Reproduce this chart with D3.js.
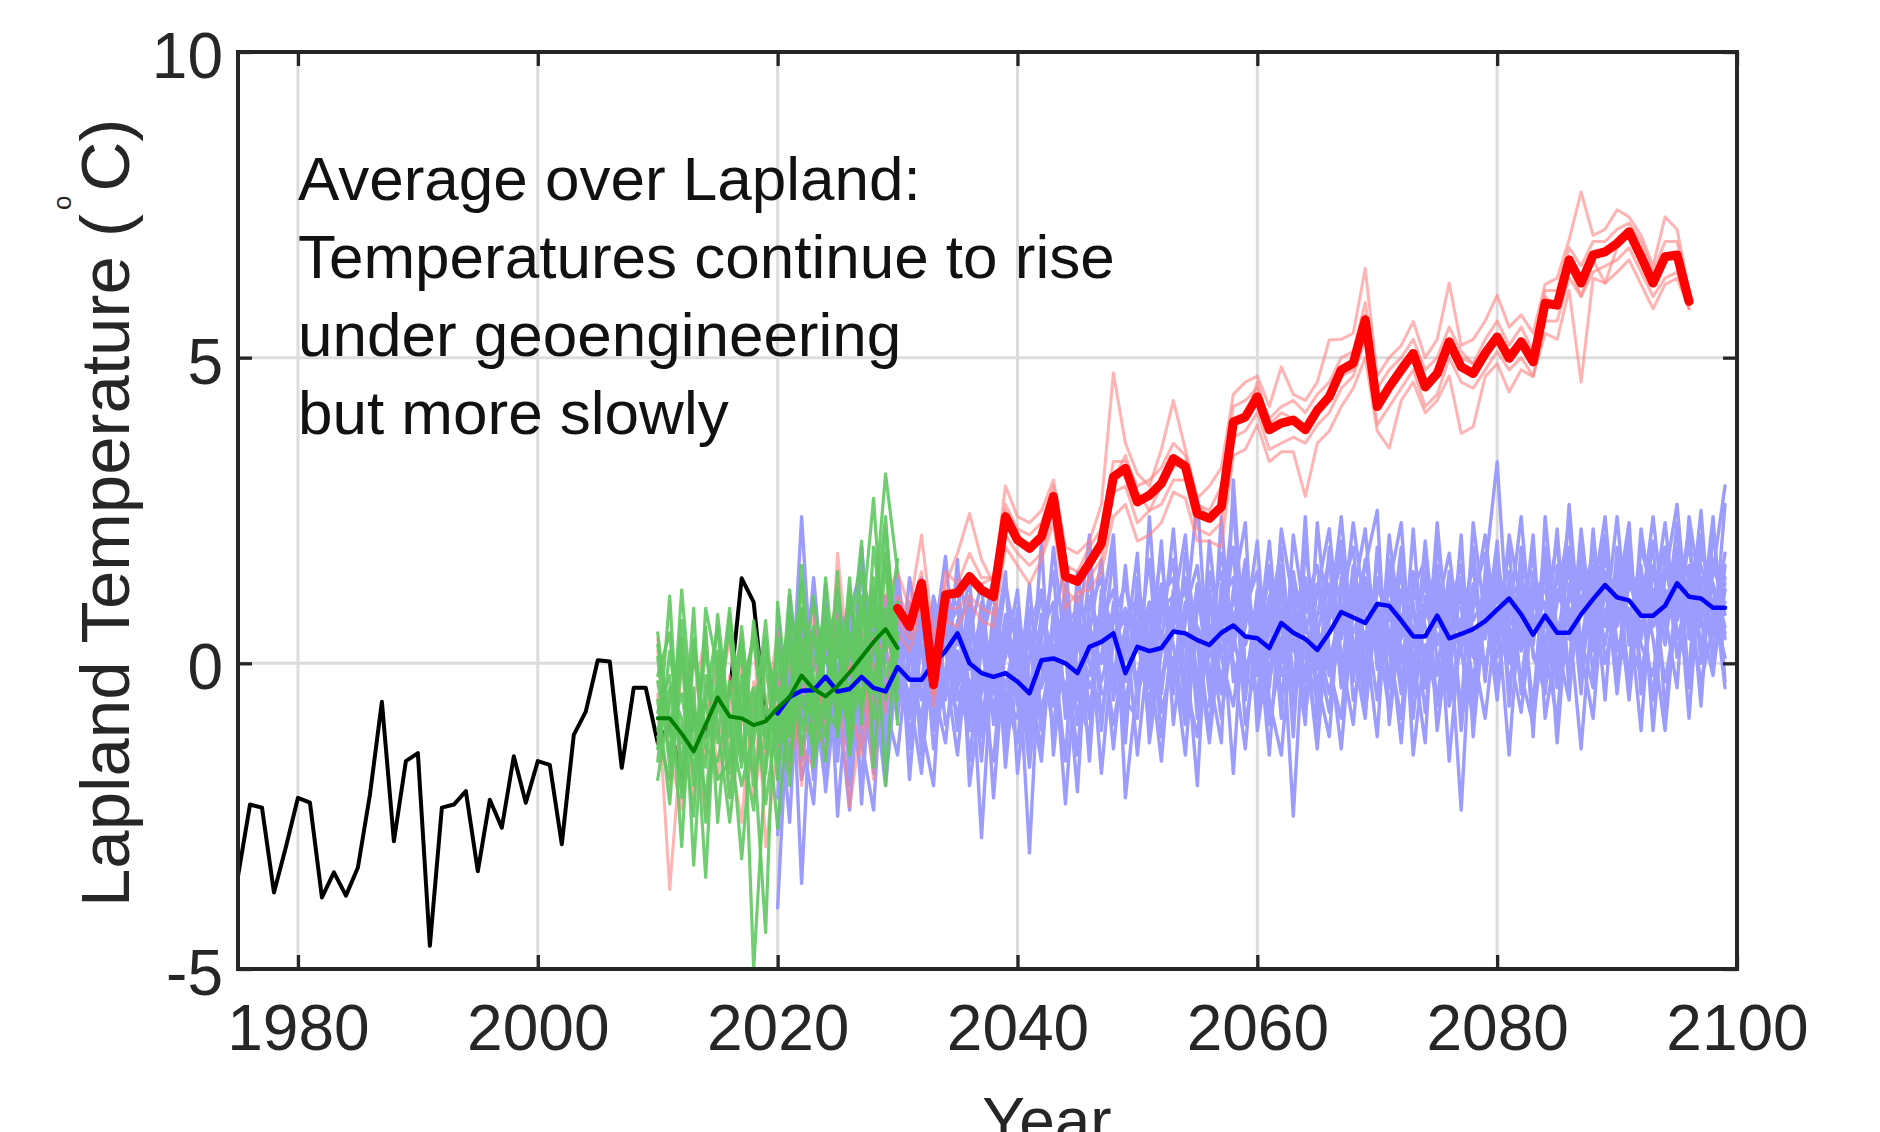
<!DOCTYPE html>
<meta charset="utf-8">
<script src="https://d3js.org/d3.v7.min.js"></script>
<style>
  body { margin: 0; background: #fff; }
  text { font-family: "Liberation Sans", Arial, sans-serif; }
</style>

<div id="my_dataviz"></div>

<script>

// axis ticks
var xTicks = [1980, 2000, 2020, 2040, 2060, 2080, 2100]
var yTicks = [-5, 0, 5, 10]

var noteLines = ["Average over Lapland:", "Temperatures continue to rise", "under geoengineering", "but more slowly"]

// observed record, one value a year from 1975
var obsStart = 1975
var obsTemp = [-3.48, -2.31, -2.36, -3.75, -3.0, -2.2, -2.28, -3.83, -3.42, -3.8,
  -3.34, -2.15, -0.63, -2.91, -1.6, -1.47, -4.62, -2.36, -2.31, -2.09,
  -3.4, -2.23, -2.69, -1.52, -2.28, -1.6, -1.66, -2.96, -1.17, -0.79,
  0.05, 0.03, -1.71, -0.4, -0.4, -1.3, -1.0, -1.9, -0.8, -1.2,
  -0.6, -0.5, 1.39, 1.0, -0.9]

// green runs 2010-2030
var greenStart = 2010
var greenRuns = [
  [-0.2, 0.5, -1.8, 0.9, -2.6, -0.4, -1.2, 0.3, -5.0, -1.6, 0.4, -1.1, 1.6, -0.8, 0.1, -0.5, 1.2, -0.3, 0.8, 3.1, 1.5],
  [-1.9, -0.6, 0.4, -3.3, -0.2, -1.3, 0.8, -0.9, -0.4, -2.3, -0.8, 0.3, -1.5, 0.5, -0.9, 1.5, -1.4, 0.6, 2.7, -0.2, 0.4],
  [0.5, -1.2, -0.5, -1.8, 0.6, -2.6, -0.3, -1.7, 0.7, -0.6, -2.7, -0.4, 0.2, -1.3, 1.4, -0.6, 0.1, 2.0, -1.7, 0.9, -0.6],
  [-1.4, 1.1, -2.2, -0.4, -3.5, 0.2, -0.9, -3.2, -0.8, 0.4, -1.3, 1.2, -0.7, -0.2, -1.2, 0.4, -0.9, -0.1, 1.4, -2.0, 1.0],
  [-0.8, -0.2, -3.0, 0.4, -1.2, -0.8, 0.9, -1.3, -2.4, 0.2, -0.5, -2.0, 0.8, -0.6, 0.6, -1.2, 0.5, -0.7, 0.2, 1.8, -1.0],
  [0.1, -1.7, 1.2, -1.1, -0.6, -1.9, -1.6, 0.6, -1.4, -4.4, 1.0, -0.9, -0.3, 1.1, -0.4, 0.7, -0.6, 1.1, -0.4, 0.5, 0.2],
  [-1.1, -0.4, -0.9, -2.5, 0.9, -0.1, -2.2, -0.4, 0.4, -1.2, -0.2, 0.6, -1.1, -0.1, 0.9, -0.9, 1.4, -1.0, 1.9, 0.3, 1.7],
  [-0.6, -2.3, 0.1, -0.7, -1.7, 0.8, -1.0, -2.0, -1.1, 0.7, -1.6, -0.5, 1.3, -1.7, -0.3, 0.2, -0.8, 1.5, 0.6, 2.4, -0.3],
  [-0.3, -1.5, 0.3, -2.0, -0.6, 0.6, -1.8, -0.2, -1.3, 0.1, -1.9, 0.4, -0.6, -1.4, 0.7, -0.2, -1.2, 0.9, -0.5, 1.6, -0.4],
  [-1.6, 0.2, -1.3, -0.9, -2.2, -0.3, 0.5, -1.6, -0.5, -1.8, 0.2, -1.2, 0.9, -0.4, -1.6, 0.6, 0.3, -0.6, 1.2, 0.2, 0.8],
  [0.3, -0.9, -2.1, 0.2, -1.4, -1.6, -0.5, 0.4, -2.0, -0.7, -1.1, 0.8, -0.2, 0.6, -0.7, -1.1, 0.9, 0.4, -0.9, 2.2, 0.1],
  [-1.2, -1.9, 0.7, -1.5, 0.2, -1.0, -2.6, -0.8, 0.5, -1.4, -0.4, -1.6, 0.4, -0.9, 0.3, 1.0, -1.5, 0.2, 0.5, -0.6, 0.5]
]
var greenMean = [-0.9, -0.9, -1.15, -1.44, -1.0, -0.56, -0.87, -0.9, -1.01, -0.95,
  -0.73, -0.55, -0.2, -0.42, -0.54, -0.37, -0.15, 0.1, 0.35, 0.56, 0.25]

// red runs 2010-2096, red mean from 2030
var redStart = 2010
var redRuns = [
  [-0.5, -3.7, -1.2, 0.3, -1.6, -0.4, -2.1, 0.2, -0.9, -1.5,
   -0.3, -1.2, 0.4, -0.8, -1.5, 1.8, -0.2, 0.6, -1.9, 1.1,
   1.5, 0.9, 2.1, 0.4, 1.3, 1.8, 2.45, 1.7, 1.3, 2.9,
   2.4, 2.3, 2.5, 3.0, 1.9, 1.8, 2.0, 2.6, 4.75, 3.6,
   3.1, 2.9, 3.5, 4.3, 3.5, 2.7, 2.9, 3.2, 4.4, 4.6,
   4.7, 4.2, 4.85, 4.4, 4.3, 4.6, 5.29, 5.3, 5.4, 6.46,
   4.7, 5.0, 5.2, 5.59, 5.0, 5.3, 6.22, 5.2, 5.3, 5.6,
   6.02, 5.5, 5.7, 5.4, 6.2, 6.3, 6.93, 7.71, 7.0, 7.1,
   7.42, 7.3, 7.0, 6.5, 7.3, 7.1, 6.1],
  [0.2, -1.5, -2.4, -0.6, 0.5, -1.9, -0.2, -1.0, 0.6, -3.0,
   -1.4, 0.2, -2.0, 0.9, -0.6, -0.3, -2.35, -1.0, 0.4, 0.2,
   0.5, 0.2, 0.9, -0.7, 0.7, 0.6, 1.0, 0.7, 0.6, 1.9,
   1.6, 1.3, 1.7, 2.3, 0.9, 1.16, 1.2, 1.5, 2.4, 2.6,
   2.0, 2.1, 2.3, 2.8, 2.7, 2.0, 2.0, 1.9, 3.4, 3.5,
   3.9, 3.3, 3.46, 3.46, 2.73, 3.6, 3.8, 4.2, 4.5, 5.0,
   3.8, 3.52, 4.3, 4.6, 4.1, 4.3, 4.7, 3.76, 3.87, 4.69,
   4.9, 4.44, 4.8, 4.69, 5.4, 5.3, 6.1, 4.6, 6.3, 6.22,
   6.4, 6.6, 6.2, 5.8, 6.2, 6.3, 5.8],
  [-1.3, -0.6, 0.4, -2.2, -1.0, 0.1, -1.4, -2.6, -0.3, -0.8,
   0.5, -1.8, -0.5, 0.1, -1.1, 0.8, -1.3, 0.3, -0.7, -0.4,
   1.1, 0.8, 1.5, -0.2, 1.5, 1.3, 1.8, 1.4, 1.4, 2.6,
   2.2, 2.1, 2.3, 2.9, 1.6, 1.5, 1.9, 2.2, 3.3, 3.3,
   2.9, 3.0, 3.2, 3.6, 3.4, 2.6, 2.5, 2.9, 4.2, 4.3,
   4.5, 4.0, 4.2, 4.3, 4.1, 4.4, 4.6, 5.0, 5.1, 5.9,
   4.5, 4.8, 5.0, 5.3, 4.8, 5.0, 5.5, 5.1, 4.9, 5.3,
   5.6, 5.2, 5.5, 5.1, 6.1, 6.1, 6.8, 6.5, 6.9, 6.9,
   7.1, 7.2, 6.9, 6.4, 6.9, 6.9, 6.0],
  [-0.9, -2.0, -0.1, -1.1, -2.5, -0.7, 0.4, -1.4, -1.8, -0.2,
   -0.8, -0.4, -1.4, -1.7, 0.6, -0.9, 0.0, -0.5, 0.9, 0.6,
   0.7, 0.4, 1.1, -0.5, 0.9, 0.9, 1.1, 0.9, 0.8, 2.1,
   1.8, 1.6, 1.8, 2.5, 1.2, 1.0, 1.4, 1.7, 2.8, 2.9,
   2.3, 2.5, 2.6, 3.0, 3.0, 2.2, 2.1, 2.3, 3.7, 3.8,
   4.1, 3.5, 3.6, 3.7, 3.6, 3.9, 4.1, 4.5, 4.7, 5.3,
   3.9, 4.2, 4.5, 4.8, 4.2, 4.4, 5.0, 4.6, 4.5, 4.8,
   5.1, 4.8, 5.0, 4.7, 5.6, 5.6, 6.3, 6.0, 6.4, 6.5,
   6.6, 6.8, 6.4, 6.0, 6.3, 6.4, 5.8],
  [0.4, -1.1, -1.7, 0.0, -0.4, -1.2, -0.8, 0.5, -2.2, -1.1,
   -0.1, -0.9, 0.1, -1.2, -0.3, -0.5, -0.6, -1.5, 0.0, -0.8,
   0.8, 0.6, 1.0, -0.3, 1.2, 1.2, 1.3, 1.3, 1.4, 2.5,
   2.0, 1.9, 2.1, 2.8, 1.5, 1.3, 1.7, 1.9, 3.0, 3.4,
   2.8, 2.5, 2.9, 3.2, 3.3, 2.6, 2.4, 2.5, 4.0, 4.0,
   4.6, 3.9, 4.1, 4.0, 3.9, 4.2, 4.4, 4.7, 4.8, 5.7,
   4.3, 4.6, 4.9, 5.1, 4.6, 4.8, 5.3, 5.0, 4.9, 5.1,
   5.3, 5.1, 5.3, 5.0, 6.0, 5.8, 6.5, 6.0, 6.6, 6.22,
   6.8, 7.0, 6.7, 6.2, 6.6, 6.7, 5.9]
]
var redMeanStart = 2030
var redMean = [0.9, 0.6, 1.31, -0.35, 1.12, 1.15, 1.42, 1.2, 1.09, 2.4,
  2.02, 1.88, 2.07, 2.73, 1.42, 1.34, 1.64, 1.96, 3.05, 3.19,
  2.64, 2.75, 2.94, 3.35, 3.22, 2.45, 2.37, 2.56, 3.95, 4.03,
  4.36, 3.82, 3.93, 3.98, 3.82, 4.14, 4.36, 4.8, 4.91, 5.62,
  4.2, 4.52, 4.8, 5.07, 4.52, 4.74, 5.26, 4.85, 4.74, 5.07,
  5.34, 4.99, 5.26, 4.93, 5.89, 5.86, 6.6, 6.22, 6.68, 6.73,
  6.87, 7.06, 6.65, 6.22, 6.65, 6.68, 5.92]

// geoengineering runs 2020-2099
var blueStart = 2020
var blueRuns = [
  [-4.0, -0.1, 0.6, -1.3, -0.4, 0.9, -1.8, -0.6, 0.3, -1.1,
   0.8, -1.2, -0.3, 1.1, 0.2, -0.9, 0.4, -1.6, 0.7, -0.5,
   -1.3, 0.6, 1.2, -0.7, 0.3, -1.5, 0.9, 1.4, -0.2, -1.0,
   1.2, -0.4, 0.8, 1.7, -0.6, 0.5, -1.1, 1.3, 0.2, 1.6,
   -0.8, 0.7, 1.9, -0.3, 0.4, -1.4, 1.1, 2.0, 0.3, -0.5,
   1.8, 0.2, -0.9, 1.4, 0.6, -0.2, 1.5, -1.1, 0.9, 2.1,
   0.4, 1.9, -0.5, 1.2, 0.1, 2.2, -0.3, 1.0, 1.8, 0.6,
   2.4, 0.3, 1.1, -0.6, 1.7, 0.9, 2.2, 0.0, 1.5, 2.9],
  [0.5, -1.2, 2.4, -0.8, 0.3, -1.6, 0.8, 1.6, -1.0, 0.2,
   -0.7, 0.9, -1.5, 0.3, 1.75, -0.4, -1.1, 0.6, -0.2, 1.3,
   0.2, -1.7, 0.4, 1.5, -0.9, 0.7, -0.4, 0.1, 1.8, -2.2,
   -0.3, 1.0, -1.2, 0.6, 1.4, -0.9, 2.0, 0.1, -0.7, 0.9,
   1.5, -1.0, 0.2, 1.3, -0.6, 0.8, 1.7, -0.4, 1.1, 2.2,
   -0.1, 1.3, 2.3, -0.5, 0.8, 1.6, -0.7, 0.3, 1.9, -0.2,
   1.4, 0.0, 1.7, -1.2, 2.4, 0.3, -0.6, 1.9, 0.7, 2.1,
   -0.2, 1.8, 0.5, 2.0, -0.8, 1.3, 0.6, 2.5, -0.1, 1.2],
  [-1.6, 0.9, -3.6, 0.4, -1.1, 1.2, -0.3, -1.9, 0.7, -0.4,
   0.3, -0.6, 1.0, -1.4, -0.2, 1.5, 0.6, -2.85, 0.4, -0.9,
   0.9, -0.3, -1.4, 0.7, 1.6, -0.5, -1.2, 1.1, 0.3, 0.8,
   -1.5, 0.4, 1.8, -0.4, 0.9, 1.6, -0.2, -1.3, 3.0, -0.1,
   0.5, 1.4, -0.9, 2.1, 0.7, -0.3, -1.2, 1.4, 0.0, 1.7,
   0.6, -0.8, 1.2, 0.1, -1.3, 2.0, 0.5, 1.1, -0.6, 1.3,
   -0.4, 1.1, 0.6, 1.8, -0.2, 1.0, 2.3, -0.1, 1.4, 0.3,
   1.6, -0.3, 2.2, 0.8, 0.4, 2.3, -0.4, 1.4, 1.0, 0.5],
  [-0.9, -1.8, 0.2, 1.0, -2.1, -0.2, 0.6, -1.3, -2.4, 0.9,
   -0.5, 1.4, 0.2, -0.8, 0.9, 1.0, -1.6, 0.3, 1.2, -1.7,
   0.4, -3.1, 0.8, -0.2, 1.1, -1.0, 0.5, 1.7, -0.6, 0.6,
   1.1, -0.9, 0.3, 2.2, -0.3, -1.2, 0.8, 1.5, 0.0, -1.4,
   0.9, 0.1, 1.6, -1.2, 1.9, 0.4, -0.5, 0.6, 2.3, 0.8,
   -0.6, 2.1, 0.4, 1.0, -0.8, 0.9, 1.8, 0.2, -0.9, 1.5,
   3.3, 0.2, -0.8, 0.9, 1.5, -1.3, 1.2, 0.4, -0.4, 1.9,
   0.6, 2.1, -0.2, 1.0, 1.9, 0.1, 1.5, -0.7, 2.2, 0.4],
  [0.2, -0.7, -1.2, -2.3, 0.8, -0.9, -2.0, 0.4, 0.1, -1.6,
   1.3, -1.9, 0.5, 0.9, -1.0, -0.3, 1.1, -0.7, -1.6, 0.6,
   -0.7, 1.3, -1.0, 0.2, -1.6, 1.5, 0.0, -0.9, 0.7, 1.3,
   0.2, 1.7, -0.8, 0.1, -1.5, 1.0, 0.6, -0.5, 1.2, 2.3,
   -1.1, 0.3, 0.9, -2.5, 1.0, 1.6, -0.1, -0.9, 1.3, -0.8,
   1.0, -0.3, 1.7, -1.5, 0.3, -0.6, 0.9, 1.6, 0.2, -0.9,
   0.9, -1.5, 1.3, 0.2, -0.5, 1.6, 0.7, -1.4, 1.1, 2.4,
   0.2, 0.9, -1.1, 1.6, 0.3, 1.8, 0.9, -0.3, 0.6, 1.8],
  [-1.3, 0.4, -0.2, -1.7, 1.3, -2.5, 0.1, -0.8, -1.5, 0.6,
   -0.3, -0.5, -1.8, 0.6, 0.4, 1.3, -0.8, 1.0, -0.4, 0.1,
   1.2, -1.1, -0.3, 1.9, 0.2, -2.1, 1.1, 0.4, -1.0, 0.2,
   1.8, -1.3, 0.2, 0.9, 2.1, -0.6, -0.7, 2.4, -0.3, 0.6,
   2.0, -0.6, -1.5, 0.8, -0.2, 1.2, 2.2, 0.1, -1.0, 1.2,
   0.3, 1.0, -0.5, 2.2, -0.4, 1.4, -1.6, 0.7, 1.6, -0.3,
   1.7, 0.6, -0.2, -1.0, 0.8, 2.0, -0.4, 1.5, 0.2, 1.1,
   1.3, -0.6, 1.4, 0.4, -1.1, 1.1, 1.9, 0.7, -0.2, 1.6],
  [-2.2, 1.1, -0.6, 0.5, -1.4, 0.3, -1.1, 1.9, -0.3, -2.0,
   0.1, 0.2, -1.0, -2.0, 1.1, 0.3, 1.4, -1.2, 0.9, -1.3,
   0.5, -0.8, 2.0, -1.5, 0.6, 0.9, -1.6, 1.2, 0.5, -0.6,
   -0.9, 2.4, -0.5, 1.1, 0.4, -2.0, 1.5, 0.4, 1.9, -1.0,
   0.2, 2.0, -0.2, 0.4, -1.0, 2.3, 0.2, -1.4, 0.9, 1.6,
   2.5, -1.0, 0.8, -0.2, 2.0, 0.0, -0.3, 2.1, -1.2, 1.0,
   -0.6, 1.4, 0.3, 2.1, -0.9, 0.4, 1.6, -0.5, 2.2, 0.0,
   1.0, 2.3, -0.5, 1.2, 0.8, -0.4, 2.4, 1.1, 0.2, 2.6],
  [-0.4, -2.6, 0.9, -0.1, 0.6, -1.3, 1.0, -2.3, 0.8, -0.7,
   -1.5, 0.4, 1.2, -0.4, -1.3, 0.7, -0.1, 0.8, -2.2, 0.4,
   -0.1, 0.6, -0.8, 0.3, -2.3, 0.4, 2.1, -1.1, 1.0, -0.3,
   0.6, -0.2, 2.0, -1.0, 0.7, 2.7, -0.4, 0.9, -1.8, 1.3,
   -0.2, 1.1, 0.6, -0.7, 2.4, -0.9, 0.9, 1.8, -0.6, 0.3,
   1.4, 0.5, -1.3, 1.2, 1.7, -1.1, 0.6, -2.4, 1.2, 0.4,
   2.0, -0.7, 1.9, 0.6, 1.0, -0.4, 2.6, 0.2, -0.9, 1.5,
   -0.5, 1.4, 0.8, 2.4, 0.6, 1.6, -0.9, 1.8, 1.3, -0.4],
  [0.9, -1.5, -0.9, 1.4, -0.8, -0.5, -2.4, 0.2, 1.2, -0.9,
   0.6, -1.4, 0.8, -0.9, 0.7, -1.1, 0.9, -0.3, 0.2, 1.5,
   -1.8, 0.1, 1.1, -0.5, 1.3, -0.2, 0.7, -1.8, 0.4, 0.9,
   0.4, -0.7, 1.2, 0.3, -1.0, 1.3, 0.5, -0.9, 0.7, 1.0,
   0.7, -1.5, 1.3, 0.5, 0.1, -0.6, 1.9, 0.9, -0.2, 0.5,
   -1.2, 1.7, 0.2, 0.6, -0.4, 2.3, 0.1, 1.4, 0.5, -0.1,
   1.2, -0.3, 0.5, 1.4, 0.2, -0.9, 1.3, 0.8, 1.6, -0.6,
   1.9, 0.4, -0.2, 0.9, 2.3, 0.5, -0.1, 2.1, 0.7, 1.0],
  [-1.9, 0.0, -0.4, -0.9, -1.6, 1.1, -0.7, -0.2, -1.8, 0.3,
   -0.9, 1.0, -0.6, 0.4, -0.6, 1.7, -2.0, -0.4, 0.6, -0.7,
   0.3, -1.4, 0.5, 1.0, -0.6, 1.1, -0.9, 0.8, 2.1, -1.3,
   1.4, 0.1, -1.6, 0.8, 1.2, -0.2, 0.3, 1.8, 0.5, -0.6,
   1.2, -0.4, 2.2, 1.0, -0.8, 0.5, 1.3, -0.2, 1.6, 0.0,
   0.8, 0.2, 1.9, -0.9, 1.1, 0.6, 1.2, -0.8, 2.3, 0.7,
   0.1, 2.1, 1.0, -0.7, 1.7, 0.6, -0.1, 2.2, 0.4, 1.3,
   0.8, 1.6, 0.3, -0.2, 1.4, 2.6, 0.4, 1.2, 0.9, 0.1],
  [-0.6, 0.6, -1.9, -1.0, 0.9, -0.3, -1.5, 0.5, -0.6, 1.1,
   -0.2, -0.8, 1.4, -0.3, -0.1, -1.5, 0.5, 1.3, -1.0, 0.3,
   0.8, -0.5, -1.6, 0.9, 0.4, -0.4, 1.5, -0.5, -0.4, 1.6,
   -0.6, 0.8, 0.5, -0.5, 1.8, 0.3, -1.3, 0.6, 2.6, -0.2,
   -0.5, 0.9, 0.0, 1.5, 0.3, -1.2, 0.7, 2.4, 0.2, -0.9,
   1.9, -0.4, 0.7, 1.5, -0.1, 1.0, -0.5, 0.4, 1.1, 1.8,
   -0.2, 0.7, 2.4, 0.1, -0.3, 1.2, 0.6, 1.7, -0.2, 2.0,
   0.3, -0.1, 1.9, 1.1, -0.3, 0.9, 2.0, 0.2, 1.7, 0.8],
  [-2.8, -0.3, 0.3, -0.5, -2.0, 0.5, 0.9, -1.0, -0.1, -1.3,
   1.5, -0.2, -0.9, 0.7, 0.6, -0.6, -0.5, 0.5, 1.4, -0.6,
   -0.9, 0.9, 0.2, -1.1, 1.0, 0.3, -0.2, 0.6, -1.4, 0.5,
   0.9, -1.1, 1.1, 1.4, -0.8, 0.9, 1.2, -0.4, 0.4, 1.7,
   0.0, 1.6, -0.6, 0.9, 1.4, 0.2, -0.8, 1.1, 1.9, -0.3,
   1.2, 0.9, -0.2, 0.3, 1.5, -0.7, 1.0, 0.9, -0.3, 1.2,
   0.7, 1.3, -0.4, 1.5, 0.9, 0.0, 1.9, -0.2, 1.3, 0.8,
   1.4, 0.7, 1.6, -1.1, 1.2, 0.4, 1.1, 0.6, 2.4, -0.3],
  [-1.1, -0.8, 0.1, -1.9, 0.4, -1.0, -0.2, -1.4, 0.5, -0.9,
   -0.4, 0.5, -1.2, 0.8, -0.3, 0.2, -1.0, 0.9, -0.8, 0.5,
   -0.5, 0.4, -1.1, 0.6, -0.7, 1.0, -0.8, 0.7, 1.2, -0.7,
   0.7, -0.9, 0.9, 1.1, -0.2, 1.3, -0.5, 1.0, 1.4, -0.4,
   1.1, -0.2, 1.2, -0.4, 1.3, -0.1, 1.0, 1.6, -0.3, 1.4,
   0.5, 1.5, 0.0, 1.1, 0.9, 1.6, -0.2, 1.3, 0.7, 1.1,
   1.5, 0.6, 1.0, 0.3, 1.9, -0.1, 1.1, 1.3, 0.6, 1.7,
   1.0, 1.5, 0.4, 1.6, 0.7, 1.9, 0.8, 1.3, 0.5, 1.4],
  [-0.2, -1.4, -0.8, 0.3, -1.2, 0.0, -1.7, -0.5, -1.1, 0.4,
   0.5, -0.9, 0.6, -0.6, 1.0, -0.4, 0.3, -0.9, 0.1, -0.4,
   0.6, -1.0, 0.3, -0.3, 0.8, -0.6, 0.6, 0.0, 0.9, 0.1,
   -0.2, 0.5, -0.4, 1.2, 0.3, -0.3, 1.1, 0.2, 0.8, 1.1,
   -0.1, 0.5, 1.4, 0.2, 0.9, 0.6, -0.2, 1.2, 1.1, 0.4,
   1.3, 0.7, 1.2, -0.3, 0.9, 0.3, 1.1, 0.6, 0.1, 1.4,
   0.3, 1.0, 1.4, 0.8, 0.4, 1.1, 0.9, 0.3, 1.6, 0.7,
   1.6, 0.5, 1.2, 0.9, 1.6, 0.7, 1.4, 0.3, 1.3, 0.6],
  [-1.5, 0.3, -1.0, -0.6, -0.9, -1.4, 0.4, -0.9, -0.7, -0.2,
   -0.8, 0.1, 0.3, -1.1, 0.5, 0.9, -0.4, 0.2, -0.5, 0.8,
   -0.2, -0.7, 0.8, 0.2, -0.4, 0.4, 0.2, 0.9, -0.5, 0.4,
   0.3, 1.0, 0.4, -0.2, 1.0, 0.6, 0.1, 0.9, 0.4, 0.8,
   0.6, 1.0, 0.3, 1.1, -0.3, 0.8, 0.9, 0.4, 1.4, 0.9,
   0.9, 1.2, 0.5, 0.8, 0.1, 1.2, 0.7, 0.2, 1.3, 0.6,
   1.1, 1.5, 0.2, 1.0, 1.2, 0.5, 0.4, 1.4, 1.0, 1.8,
   0.9, 1.2, 1.5, 0.6, 1.1, 1.4, 1.2, 1.6, 0.8, 1.3],
  [-0.5, -0.2, -1.6, -0.3, -0.7, 0.3, -0.9, 0.1, -1.3, -0.6,
   0.2, -0.6, -0.2, 0.3, 0.7, -0.1, 0.8, -0.5, 0.4, -1.0,
   0.1, 0.3, -0.4, 0.5, 0.6, -0.9, 0.4, -0.3, 0.5, 0.7,
   -0.5, 0.2, 1.3, 0.6, 0.3, 0.9, 0.6, -0.3, 1.1, 0.3,
   0.9, -0.3, 0.7, 0.8, 0.5, 1.3, 0.1, 0.7, 0.5, 1.1,
   0.2, 0.9, 1.4, 0.5, 1.3, 0.4, 0.8, 1.2, 0.3, 0.9,
   1.3, 0.4, 0.8, 1.2, 0.6, 1.4, 0.7, 1.1, 0.9, 1.2,
   0.7, 1.3, 0.9, 1.2, 0.8, 1.1, 1.6, 0.9, 1.5, 1.2]
]
var blueMean = [-0.82, -0.55, -0.45, -0.44, -0.22, -0.46, -0.42, -0.22, -0.4, -0.46,
  -0.06, -0.27, -0.27, 0.0, 0.2, 0.49, 0.0, -0.16, -0.22, -0.16,
  -0.3, -0.49, 0.05, 0.08, 0.0, -0.16, 0.27, 0.35, 0.49, -0.16,
  0.27, 0.2, 0.25, 0.52, 0.49, 0.38, 0.3, 0.5, 0.62, 0.44,
  0.41, 0.25, 0.66, 0.5, 0.4, 0.22, 0.5, 0.84, 0.75, 0.66,
  0.97, 0.94, 0.7, 0.44, 0.44, 0.78, 0.41, 0.48, 0.56, 0.69,
  0.88, 1.06, 0.8, 0.47, 0.78, 0.5, 0.5, 0.8, 1.05, 1.28,
  1.08, 1.03, 0.78, 0.78, 0.94, 1.31, 1.09, 1.06, 0.91, 0.91]


// set the dimensions and margins of the graph
var width = 1880,
    height = 1132,
    margin = {top: 52, right: 143, bottom: 163, left: 238}

var svg = d3.select("#my_dataviz")
  .append("svg")
    .attr("width", width)
    .attr("height", height)

var x = d3.scaleLinear().domain([1975, 2100]).range([margin.left, width - margin.right])
var y = d3.scaleLinear().domain([-5, 10]).range([height - margin.bottom, margin.top])

// turn a list of yearly values into [year, value] pairs
function yearly(start, values) {
  return values.map(function(v, i) { return [start + i, v] })
}

var line = d3.line()
  .x(function(d) { return x(d[0]) })
  .y(function(d) { return y(d[1]) })

svg.append("clipPath").attr("id", "plotclip")
  .append("rect")
    .attr("x", x(1975)).attr("y", y(10))
    .attr("width", x(2100) - x(1975)).attr("height", y(-5) - y(10))

// grid
var grid = svg.append("g").attr("stroke", "#dcdcdc").attr("stroke-width", 3)
grid.selectAll(".vx").data(xTicks).enter().append("line")
  .attr("x1", function(d) { return x(d) }).attr("x2", function(d) { return x(d) })
  .attr("y1", y(-5)).attr("y2", y(10))
grid.selectAll(".hy").data(yTicks).enter().append("line")
  .attr("x1", x(1975)).attr("x2", x(2100))
  .attr("y1", function(d) { return y(d) }).attr("y2", function(d) { return y(d) })

var plot = svg.append("g").attr("clip-path", "url(#plotclip)")
  .attr("fill", "none").attr("stroke-linejoin", "round").attr("stroke-linecap", "round")

// observed
plot.append("path").datum(yearly(obsStart, obsTemp))
  .attr("d", line).attr("stroke", "#000").attr("stroke-width", 4)

// ensembles
plot.selectAll(".blue").data(blueRuns).enter().append("path")
  .attr("d", function(d) { return line(yearly(blueStart, d)) })
  .attr("stroke", "#9c9cff").attr("stroke-width", 3.4)

plot.selectAll(".red").data(redRuns).enter().append("path")
  .attr("d", function(d) { return line(yearly(redStart, d)) })
  .attr("stroke", "#ff8080").attr("stroke-opacity", 0.6).attr("stroke-width", 3)

plot.selectAll(".green").data(greenRuns).enter().append("path")
  .attr("d", function(d) { return line(yearly(greenStart, d)) })
  .attr("stroke", "#62c862").attr("stroke-opacity", 0.9).attr("stroke-width", 3.2)

// ensemble means
plot.append("path").datum(yearly(blueStart, blueMean))
  .attr("d", line).attr("stroke", "#0000ff").attr("stroke-width", 4.5)
plot.append("path").datum(yearly(greenStart, greenMean))
  .attr("d", line).attr("stroke", "#008000").attr("stroke-width", 4)
plot.append("path").datum(yearly(redMeanStart, redMean))
  .attr("d", line).attr("stroke", "#ff0000").attr("stroke-width", 9)

// axes, ticks pointing inward
function styleAxis(g) {
  g.select(".domain").remove()
  g.attr("font-family", "'Liberation Sans', Arial, sans-serif").attr("font-size", 64).attr("color", "#262626")
  g.selectAll(".tick line").attr("stroke-width", 3.3)
}

svg.append("g").attr("transform", "translate(0," + y(-5) + ")")
  .call(d3.axisBottom(x).tickValues(xTicks).tickSizeInner(-14).tickSizeOuter(0).tickPadding(36).tickFormat(function(d) { return String(d) }))
  .call(styleAxis)
svg.append("g").attr("transform", "translate(0," + y(10) + ")")
  .call(d3.axisTop(x).tickValues(xTicks).tickSizeInner(-14).tickSizeOuter(0).tickFormat(""))
  .call(styleAxis)
svg.append("g").attr("transform", "translate(" + x(1975) + ",0)")
  .call(d3.axisLeft(y).tickValues(yTicks).tickSizeInner(-14).tickSizeOuter(0).tickPadding(15).tickFormat(function(d) { return String(d) }))
  .call(styleAxis)
  .selectAll("text").attr("dy", "0.4em")
svg.append("g").attr("transform", "translate(" + x(2100) + ",0)")
  .call(d3.axisRight(y).tickValues(yTicks).tickSizeInner(-14).tickSizeOuter(0).tickFormat(""))
  .call(styleAxis)

// box
svg.append("rect")
  .attr("x", x(1975)).attr("y", y(10))
  .attr("width", x(2100) - x(1975)).attr("height", y(-5) - y(10))
  .attr("fill", "none").attr("stroke", "#262626").attr("stroke-width", 4)

// annotation
svg.append("g").selectAll("text").data(noteLines).enter().append("text")
  .attr("x", x(1980))
  .attr("y", function(d, i) { return 200 + i * 78 })
  .attr("font-size", 62)
  .attr("fill", "#111")
  .text(function(d) { return d })

// axis titles
var ylab = svg.append("text")
  .attr("transform", "translate(129,907) rotate(-90)")
  .attr("font-size", 69)
  .attr("fill", "#262626")
ylab.append("tspan").text("Lapland Temperature (")
ylab.append("tspan").attr("font-size", 26).attr("dx", 4).attr("dy", -58).text("o")
ylab.append("tspan").attr("dx", 4).attr("dy", 58).text("C)")

svg.append("text")
  .attr("x", 1047).attr("y", 1143)
  .attr("text-anchor", "middle")
  .attr("font-size", 64)
  .attr("fill", "#262626")
  .text("Year")

</script>
